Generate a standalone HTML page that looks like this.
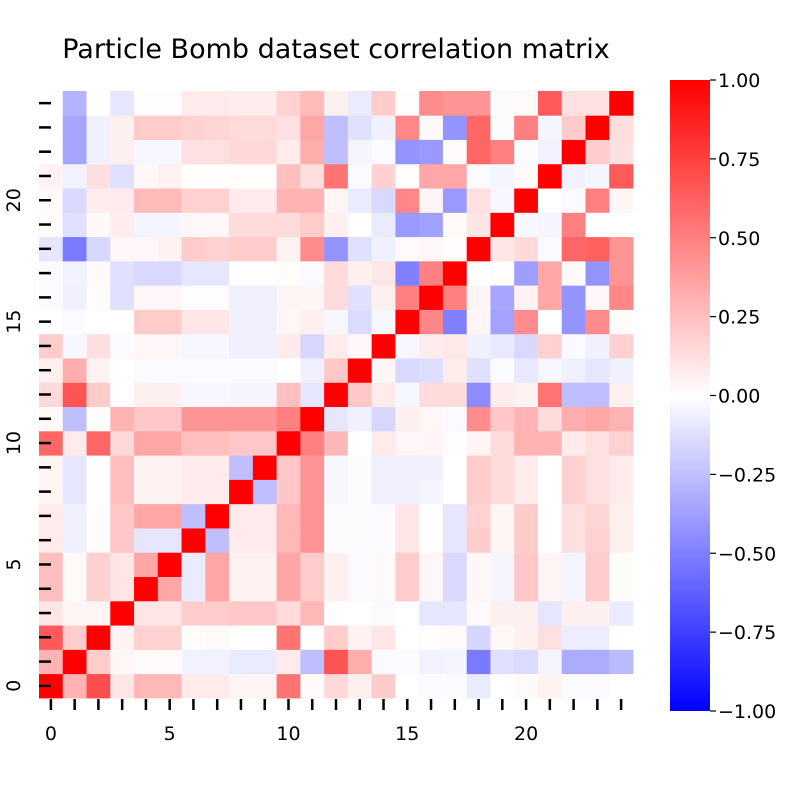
<!DOCTYPE html>
<html><head><meta charset="utf-8"><style>
body{margin:0;background:#fff;}
svg{display:block;font-family:"DejaVu Sans","Liberation Sans",sans-serif;}
</style></head><body>
<svg id="chart" width="789" height="789" viewBox="0 0 789 789" xmlns="http://www.w3.org/2000/svg">
<rect width="789" height="789" fill="#fff"/>
<text x="336" y="58" font-size="27" text-anchor="middle" fill="#000">Particle Bomb dataset correlation matrix</text>
<g id="cells"></g>
<g id="axes"></g>
<g id="cbar"></g>
</svg>
<script>
const categories = [0,1,2,3,4,5,6,7,8,9,10,11,12,13,14,15,16,17,18,19,20,21,22,23,24];
const xTickLabels = ["0","5","10","15","20"];
const yTickLabels = ["0","5","10","15","20"];
const cbarTickValues = [1,0.75,0.5,0.25,0,-0.25,-0.5,-0.75,-1];
const cbarTickLabels = ["1.00","0.75","0.50","0.25","0.00","\u22120.25","\u22120.50","\u22120.75","\u22121.00"];
const row0 = [1,0.3,0.7,0.1,0.28,0.28,0.08,0.08,0.04,0.04,0.55,0.02,0.15,0.06,0.2,0,-0.02,-0.01,-0.08,0,0.02,0.05,-0.02,-0.02,0];
const row1 = [0.3,1,0.2,0.03,0.02,0.02,-0.05,-0.05,-0.08,-0.08,0.08,-0.25,0.67,0.32,-0.02,-0.02,-0.05,-0.04,-0.52,-0.12,-0.14,-0.04,-0.32,-0.32,-0.27];
const row2 = [0.65,0.2,1,0.05,0.18,0.18,0.01,0.02,0,0,0.55,0,0.2,0.05,0.1,0,0.01,0.02,-0.16,0.03,0.06,0.12,-0.07,-0.07,0];
const row3 = [0.1,0.04,0.04,1,0.1,0.1,0.2,0.2,0.22,0.22,0.14,0.28,0,0,-0.02,0,-0.1,-0.1,0.02,0.06,0.06,-0.1,0.06,0.06,-0.08];
const row4 = [0.25,0.02,0.18,0.1,1,0.35,-0.08,0.35,0.05,0.05,0.35,0.2,0.06,-0.02,0.02,0.2,0.03,-0.15,0.03,-0.04,0.22,0.04,-0.04,0.2,0.01];
const row5 = [0.25,0.02,0.18,0.1,0.35,1,-0.08,0.35,0.05,0.05,0.35,0.2,0.06,-0.02,0.02,0.2,0.03,-0.15,0.03,-0.04,0.22,0.04,-0.04,0.2,0.01];
const row6 = [0.08,-0.06,0.01,0.22,-0.1,-0.1,1,-0.25,0.08,0.08,0.28,0.42,-0.01,-0.01,-0.02,0.1,0,-0.1,0.2,0.04,0.2,0,0.12,0.18,0.06];
const row7 = [0.08,-0.06,0.01,0.22,0.35,0.35,-0.25,1,0.08,0.08,0.28,0.42,-0.01,-0.01,-0.02,0.1,0,-0.1,0.18,0.04,0.2,0,0.12,0.16,0.06];
const row8 = [0.04,-0.1,0,0.25,0.05,0.05,0.08,0.08,1,-0.25,0.22,0.42,-0.03,-0.01,-0.06,-0.06,-0.04,0,0.2,0.14,0.08,0,0.18,0.12,0.08];
const row9 = [0.04,-0.1,0,0.25,0.05,0.05,0.08,0.08,-0.25,1,0.22,0.42,-0.03,-0.01,-0.06,-0.06,-0.06,0,0.2,0.14,0.08,0,0.18,0.12,0.08];
const row10 = [0.6,0.08,0.6,0.15,0.35,0.35,0.25,0.25,0.22,0.22,1,0.5,0.28,0,0.08,0.03,0.04,0.01,0.04,0.14,0.3,0.3,0.08,0.12,0.18];
const row11 = [0.02,-0.25,0,0.3,0.22,0.22,0.42,0.42,0.42,0.42,0.5,1,-0.1,-0.06,-0.16,0.06,0.03,-0.02,0.45,0.22,0.3,0.14,0.32,0.35,0.3];
const row12 = [0.15,0.67,0.2,0,0.06,0.06,-0.03,-0.03,-0.04,-0.04,0.25,-0.1,1,0.22,0.08,-0.03,0.14,0.14,-0.45,0.07,0.05,0.55,-0.25,-0.25,0.06];
const row13 = [0.06,0.32,0.05,0,-0.02,-0.02,-0.02,-0.02,-0.02,-0.02,0,-0.06,0.22,1,0.03,-0.15,-0.13,0.07,-0.12,-0.02,-0.09,-0.03,-0.06,-0.1,-0.06];
const row14 = [0.2,-0.03,0.12,-0.02,0.03,0.03,-0.03,-0.03,-0.06,-0.06,0.08,-0.16,0.08,0.03,1,-0.03,0.07,0.09,-0.06,-0.09,-0.15,0.18,-0.02,-0.06,0.18];
const row15 = [0,-0.02,0,0,0.2,0.2,0.1,0.1,-0.06,-0.06,0.03,0.06,-0.03,-0.14,-0.03,1,0.47,-0.5,0.03,-0.36,0.45,0,-0.42,0.45,0.01];
const row16 = [-0.02,-0.06,0.01,-0.12,0.03,0.03,0.01,0.01,-0.06,-0.06,0.04,0.04,0.14,-0.12,0.06,0.5,1,0.5,0.04,-0.35,0.05,0.35,-0.42,0.03,0.47];
const row17 = [-0.02,-0.05,0.02,-0.12,-0.15,-0.15,-0.1,-0.1,0,0,0.01,-0.02,0.14,0.06,0.1,-0.5,0.5,1,0,0.01,-0.38,0.35,0.02,-0.42,0.42];
const row18 = [-0.1,-0.52,-0.15,0.03,0.03,0.05,0.2,0.18,0.2,0.2,0.05,0.45,-0.42,-0.12,-0.06,0.02,0.03,0.01,1,0.1,0.14,-0.02,0.6,0.62,0.42];
const row19 = [0.01,-0.12,0.02,0.07,-0.04,-0.04,0.03,0.03,0.14,0.14,0.14,0.2,0.06,0,-0.08,-0.4,-0.37,0.02,0.1,1,-0.03,-0.04,0.5,0,0];
const row20 = [0.02,-0.15,0.07,0.08,0.27,0.27,0.18,0.18,0.08,0.08,0.3,0.3,0.04,-0.08,-0.15,0.47,0.04,-0.4,0.12,-0.03,1,0,-0.02,0.5,0.03];
const row21 = [0.05,-0.05,0.12,-0.12,0.03,0.05,0.01,0.01,0.01,0.01,0.25,0.13,0.55,-0.02,0.18,0.01,0.35,0.35,-0.02,-0.04,0.02,1,-0.05,-0.04,0.65];
const row22 = [0,-0.35,-0.06,0.06,-0.03,-0.03,0.12,0.12,0.15,0.15,0.08,0.32,-0.25,-0.04,-0.02,-0.42,-0.4,0.02,0.6,0.5,-0.01,-0.05,1,0.2,0.12];
const row23 = [0,-0.35,-0.06,0.06,0.2,0.2,0.18,0.16,0.14,0.14,0.12,0.35,-0.25,-0.12,-0.06,0.47,0.02,-0.42,0.6,-0.01,0.5,-0.04,0.2,1,0.13];
const row24 = [0,-0.3,0,-0.1,0.01,0.01,0.08,0.08,0.07,0.07,0.18,0.27,0.06,-0.08,0.2,0.01,0.45,0.42,0.42,-0.01,0.02,0.65,0.12,0.12,1];
const matrix = [row0,row1,row2,row3,row4,row5,row6,row7,row8,row9,row10,row11,row12,row13,row14,row15,row16,row17,row18,row19,row20,row21,row22,row23,row24];

const NS = "http://www.w3.org/2000/svg";
const X0 = 39, X1 = 633, Y0 = 91, Y1 = 698;
const n = categories.length;
const cw = (X1 - X0) / n, ch = (Y1 - Y0) / n;
function xScale(i){ return X0 + i * cw; }
function yScale(i){ return Y1 - (i + 1) * ch; }
const CB_X = 670, CB_W = 40, CB_T = 80, CB_B = 711;
function cbScale(v){ return CB_T + (1 - v) / 2 * (CB_B - CB_T); }
function color(v){
  v = Math.max(-1, Math.min(1, v));
  let r, g, b;
  if (v >= 0){ r = 255; g = b = Math.round(255 * (1 - v)); }
  else { b = 255; r = g = Math.round(255 * (1 + v)); }
  return "rgb(" + r + "," + g + "," + b + ")";
}
function mk(tag, attrs, parent){
  const e = document.createElementNS(NS, tag);
  for (const k in attrs) e.setAttribute(k, attrs[k]);
  parent.appendChild(e);
  return e;
}
const cells = document.getElementById("cells");
matrix.forEach((row, i) => {
  row.forEach((v, j) => {
    const r = mk("rect", {x: xScale(j).toFixed(2), y: yScale(i).toFixed(2), width: (cw + 0.4).toFixed(2), height: (ch + 0.4).toFixed(2), fill: color(v)}, cells);
    
    
  });
});
const axes = document.getElementById("axes");
categories.forEach((c, i) => {
  const yc = yScale(i) + ch / 2;
  const t = mk("line", {x1: 39, x2: 51, y1: yc, y2: yc, stroke: "#000", "stroke-width": 2.5}, axes);
  
  
  const xc = xScale(i) + cw / 2;
  const t2 = mk("line", {x1: xc, x2: xc, y1: 699, y2: 710, stroke: "#000", "stroke-width": 2.5}, axes);
  
  
});
xTickLabels.forEach((lab) => {
  const i = +lab;
  const tx = mk("text", {x: xScale(i) + cw / 2, y: 740, "font-size": 19, "text-anchor": "middle", fill: "#000"}, axes);
  tx.textContent = lab;
  
  
});
yTickLabels.forEach((lab) => {
  const i = +lab;
  const yc = yScale(i) + ch / 2;
  const tx = mk("text", {x: 20, y: yc, "font-size": 19, "text-anchor": "middle", fill: "#000", transform: "rotate(-90 20 " + yc + ")"}, axes);
  tx.textContent = lab;
  
  
});
const cbar = document.getElementById("cbar");
const defs = mk("defs", {}, cbar);
const grad = mk("linearGradient", {id: "cbg", x1: 0, y1: 0, x2: 0, y2: 1}, defs);
mk("stop", {offset: "0", "stop-color": "rgb(255,0,0)"}, grad);
mk("stop", {offset: "0.5", "stop-color": "rgb(255,255,255)"}, grad);
mk("stop", {offset: "1", "stop-color": "rgb(0,0,255)"}, grad);
const cbRect = mk("rect", {x: CB_X, y: CB_T, width: CB_W, height: CB_B - CB_T, fill: "url(#cbg)"}, cbar);


cbarTickValues.forEach((v, k) => {
  const y = cbScale(v);
  const tk = mk("line", {x1: CB_X + CB_W, x2: CB_X + CB_W + 6, y1: y, y2: y, stroke: "#000", "stroke-width": 1.2}, cbar);
  
  
  const tl = mk("text", {x: CB_X + CB_W + 8, y: y + 7, "font-size": 19, fill: "#000"}, cbar);
  tl.textContent = cbarTickLabels[k];
  
  
});
</script>
</body></html>
